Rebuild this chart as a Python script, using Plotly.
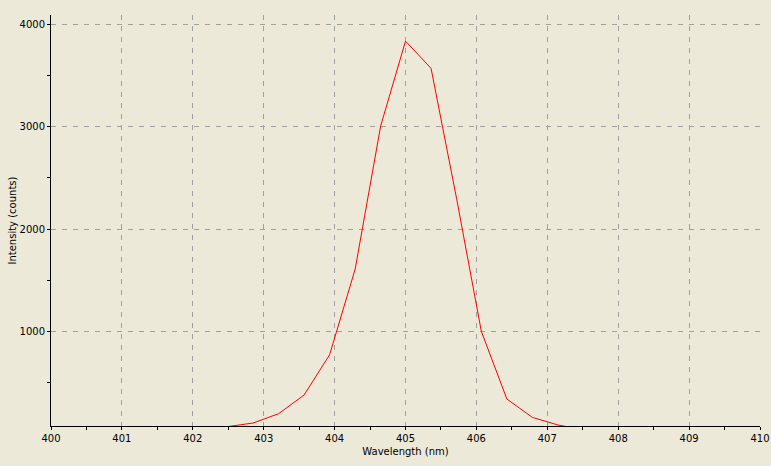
import plotly.graph_objects as go

# spectrum
wavelength = [402.48, 402.85, 403.21, 403.57, 403.93, 404.29, 404.65, 405.00,
              405.36, 405.72, 406.07, 406.43, 406.79, 407.15, 407.51]
intensity = [70, 106, 197, 380, 773, 1609, 3007, 3835,
             3570, 2300, 1000, 340, 161, 87, 40]

x_ticks = [400, 401, 402, 403, 404, 405, 406, 407, 408, 409, 410]
y_ticks = [1000, 2000, 3000, 4000]

bg = "#ECE9D8"
font = dict(family="DejaVu Sans, Verdana, sans-serif", size=10, color="black")

fig = go.Figure(go.Scatter(x=wavelength, y=intensity, mode="lines",
                           line=dict(color="#FF0000", width=1),
                           showlegend=False))

axis_style = dict(showline=True, linecolor="black", linewidth=1,
                  ticks="outside", ticklen=3, tickcolor="black",
                  showgrid=True, gridcolor="#A0A0A0", griddash="5px,6px",
                  gridwidth=1, zeroline=False, tickfont=font,
                  automargin=False)

fig.update_xaxes(range=[400, 410], tickvals=x_ticks,
                 minor=dict(dtick=0.5, ticks="outside", ticklen=3,
                            tickcolor="black", showgrid=False),
                 title=dict(text="Wavelength (nm)", font=font, standoff=4),
                 **axis_style)
fig.update_yaxes(range=[77, 4090], tickvals=y_ticks,
                 minor=dict(dtick=500, ticks="outside", ticklen=3,
                            tickcolor="black", showgrid=False),
                 **axis_style)

# y title placed by hand, just left of the tick labels
fig.add_annotation(text="Intensity (counts)", textangle=-90, font=font,
                   xref="paper", yref="paper", x=0, y=0.5,
                   xanchor="center", yanchor="middle", xshift=-39,
                   showarrow=False)

fig.update_layout(width=771, height=466,
                  margin=dict(l=51, r=11, t=15, b=40),
                  paper_bgcolor=bg, plot_bgcolor=bg, font=font)

# page body has a default 8px margin, drop it so the figure fills the window
fig.write_html("out.html", config={"displayModeBar": False},
               post_script="document.body.style.margin='0';"
                           "document.body.style.background='%s';" % bg)
